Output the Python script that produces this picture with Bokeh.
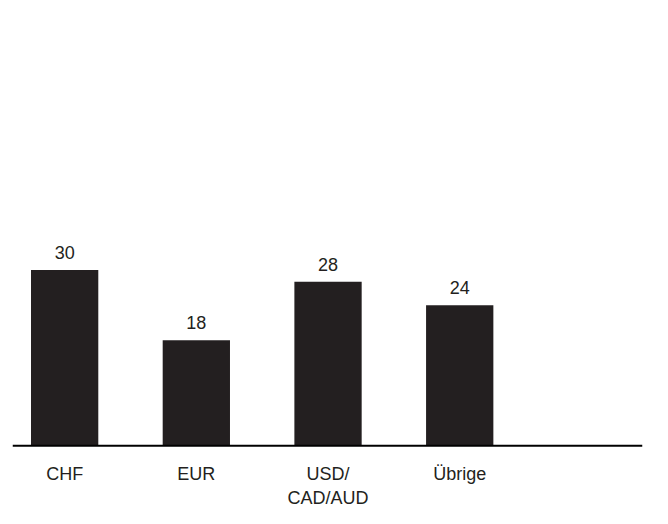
from bokeh.plotting import figure
from bokeh.models import Range1d, Span, ColumnDataSource
from bokeh.core.properties import value
from bokeh.embed import file_html
from bokeh.resources import INLINE

categories = ["CHF", "EUR", "USD/\nCAD/AUD", "Übrige"]
values = [30, 18, 28, 24]
value_labels = ["30", "18", "28", "24"]

xs = list(range(len(categories)))
src = ColumnDataSource(dict(x=xs, top=values, cat=categories, lab=value_labels,
                            zero=[0] * len(values)))

p = figure(width=652, height=508, output_backend="svg", toolbar_location=None,
           x_range=Range1d(-0.396, 4.388), y_range=Range1d(-10.7, 76.0),
           min_border=0, min_border_left=12, min_border_right=10,
           min_border_top=0, min_border_bottom=0)
p.xaxis.visible = False
p.yaxis.visible = False
p.grid.visible = False
p.outline_line_color = None
p.background_fill_color = "white"
p.border_fill_color = "white"

ink = "#231f20"
p.vbar(x="x", top="top", bottom=0, width=0.511, source=src,
       fill_color=ink, line_color=None)

p.add_layout(Span(location=0, dimension="width", line_color="#000000", line_width=2))

p.text(x="x", y="top", text="lab", source=src, text_align="center",
       text_baseline="bottom", y_offset=-11, text_color=ink,
       text_font=value("Liberation Sans"), text_font_size="18px")

p.text(x="x", y="zero", text="cat", source=src, text_align="center",
       text_baseline="top", y_offset=18, text_color=ink, text_line_height=1.2,
       text_font=value("Liberation Sans"), text_font_size="18px")

open("out.html", "w").write(file_html(p, INLINE))
